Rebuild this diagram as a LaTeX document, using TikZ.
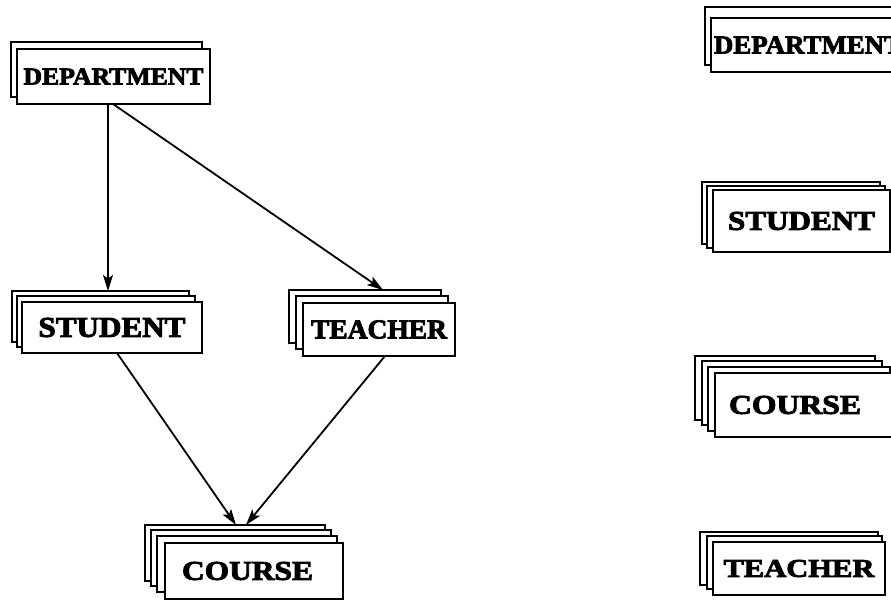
\documentclass[tikz,border=0pt]{standalone}
\usepackage{fontspec}
\setmainfont{Liberation Serif}[BoldFeatures={FakeBold=3}]
\usetikzlibrary{arrows.meta}
% heavy caption scaled to a given width and cap height: width, height, text
\newcommand\cardtext[3]{\fontsize{24pt}{24pt}\selectfont\bfseries\resizebox{#1}{#2}{#3}}
\begin{document}
\begin{tikzpicture}[x=1pt,y=-1pt,
  card/.style={draw,fill=white,line width=2pt,rectangle,anchor=north west,
               inner sep=0pt,outer sep=0pt},
  link/.style={line width=1.8pt,-{Stealth[length=16pt,width=10pt,inset=3.5pt]}}]
\useasboundingbox (0,0) rectangle (891,601);
\clip (0,0) rectangle (891,601);

% ---------- left: the hierarchy ----------
% DEPARTMENT (two cards)
\node[card,minimum width=191pt,minimum height=55pt] (deptL1) at (11,42) {};
\node[card,minimum width=193pt,minimum height=55pt] (deptL) at (17,49)
  {\cardtext{180pt}{16pt}{DEPARTMENT}};

% STUDENT (three cards)
\node[card,minimum width=177pt,minimum height=51pt] (studL1) at (12,291) {};
\node[card,minimum width=178pt,minimum height=51pt] (studL2) at (17,296) {};
\node[card,minimum width=180pt,minimum height=51pt] (studL) at (22,302)
  {\cardtext{147pt}{19pt}{STUDENT}};

% TEACHER (three cards)
\node[card,minimum width=152pt,minimum height=53pt] (teachL1) at (289,290) {};
\node[card,minimum width=152pt,minimum height=53pt] (teachL2) at (296,296) {};
\node[card,minimum width=152pt,minimum height=53pt] (teachL) at (303,303)
  {\cardtext{136pt}{18pt}{TEACHER}};

% COURSE (four cards)
\node[card,minimum width=180pt,minimum height=56pt] (courseL1) at (145,525) {};
\node[card,minimum width=180pt,minimum height=56pt] (courseL2) at (151,530) {};
\node[card,minimum width=180pt,minimum height=56pt] (courseL3) at (157,536) {};
\node[card,minimum width=178pt,minimum height=56pt] (courseL) at (165,543)
  {\cardtext{131pt}{18pt}{COURSE}\hspace*{13pt}};

% connectors
\draw[link] ([xshift=91pt]deptL.south west) -- ([xshift=96pt]studL1.north west);
\draw[link] ([xshift=96pt]deptL.south west) -- ([xshift=94pt]teachL1.north west);
\draw[link] ([xshift=95pt]studL.south west) -- ([xshift=91pt]courseL1.north west);
\draw[link] ([xshift=82pt]teachL.south west) -- ([xshift=101pt]courseL1.north west);

% ---------- right: the flat list ----------
\node[card,minimum width=200pt,minimum height=58pt] (deptR1) at (705,7) {};
\node[card,minimum width=194pt,minimum height=54pt] (deptR) at (711,18)
  {\cardtext{188pt}{17pt}{DEPARTMENT}};

\node[card,minimum width=178pt,minimum height=62pt] (studR1) at (702,182) {};
\node[card,minimum width=178pt,minimum height=62pt] (studR2) at (707,186) {};
\node[card,minimum width=177pt,minimum height=62pt] (studR) at (713,190)
  {\cardtext{147pt}{18pt}{STUDENT}};

\node[card,minimum width=180pt,minimum height=64pt] (courseR1) at (695,356) {};
\node[card,minimum width=180pt,minimum height=64pt] (courseR2) at (702,361) {};
\node[card,minimum width=182pt,minimum height=64pt] (courseR3) at (708,367) {};
\node[card,minimum width=190pt,minimum height=64pt] (courseR) at (715,373)
  {\cardtext{132pt}{18pt}{COURSE}\hspace*{30pt}};

\node[card,minimum width=178pt,minimum height=53pt] (teachR1) at (700,532) {};
\node[card,minimum width=175pt,minimum height=53pt] (teachR2) at (707,536) {};
\node[card,minimum width=172pt,minimum height=53pt] (teachR) at (713,542)
  {\cardtext{151pt}{17pt}{TEACHER}};
\end{tikzpicture}
\end{document}
